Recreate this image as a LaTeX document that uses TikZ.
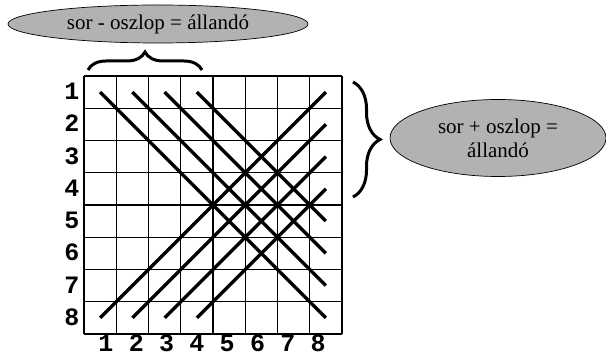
\documentclass[tikz,border=0pt]{standalone}
\usepackage{fontspec}
\setmainfont{Liberation Serif}
\newfontfamily\numfont{Liberation Mono}
\newfontfamily\txtfont{Liberation Serif}
\usetikzlibrary{shapes.geometric,decorations.pathreplacing,positioning}
\tikzset{
  gridline/.style={draw=black, line width=1.1pt},
  diagline/.style={draw=black, line width=3.4pt},
  bubble/.style={ellipse, draw=black, line width=0.7pt, fill=black!30,
    inner sep=0pt, align=center, font=\txtfont\fontsize{21}{24}\selectfont},
  numlbl/.style={font=\numfont\bfseries\fontsize{25}{25}\selectfont, inner sep=0pt,
    anchor=base},
  bracket/.style={draw=black, line width=3pt,
    decorate, decoration={brace, amplitude=#1}},
}

\begin{document}
\begin{tikzpicture}[x=1pt, y=1pt]
  \useasboundingbox (0,0) rectangle (606,358);
  % board: 8x8, cell 32.25, top left at (84,282)
  \foreach \r in {1,...,8}
    \foreach \c in {1,...,8}
      \coordinate (c-\r-\c) at ({84+(\c-0.5)*32.25}, {282-(\r-0.5)*32.25});
  \foreach \i in {0,...,8} {
    \draw[gridline] ({84+\i*32.25},24) -- ({84+\i*32.25},282);
    \draw[gridline] (84,{24+\i*32.25}) -- (342,{24+\i*32.25});
  }
  % sor - oszlop = const
  \draw[diagline] (c-1-1) -- (c-8-8);
  \draw[diagline] (c-1-2) -- (c-7-8);
  \draw[diagline] (c-1-3) -- (c-6-8);
  \draw[diagline] (c-1-4) -- (c-5-8);
  % sor + oszlop = const
  \draw[diagline] (c-8-1) -- (c-1-8);
  \draw[diagline] (c-8-2) -- (c-2-8);
  \draw[diagline] (c-8-3) -- (c-3-8);
  \draw[diagline] (c-8-4) -- (c-4-8);
  % numbering
  \foreach \r in {1,...,8}
    \node[numlbl] (row-\r) at (72, {282-(\r-0.5)*32.25-7.5}) {\r};
  \foreach \c in {1,...,8}
    \node[numlbl] (col-\c) at ({106+(\c-1)*30.3}, 6) {\c};
  % braces and bubbles
  \coordinate (tb1) at (88,288);
  \coordinate (tb2) at (202,288);
  \draw[bracket=18] (tb1) -- (tb2);
  \coordinate (rb1) at (353,276);
  \coordinate (rb2) at (353,161);
  \draw[bracket=27] (rb1) -- (rb2);
  \node[bubble, minimum width=300pt, minimum height=38pt] (diff) at (158,334)
    {sor - oszlop = állandó};
  \node[bubble, minimum width=216pt, minimum height=77pt] (sum) at (498,220)
    {sor + oszlop =\\ állandó};
\end{tikzpicture}
\end{document}
